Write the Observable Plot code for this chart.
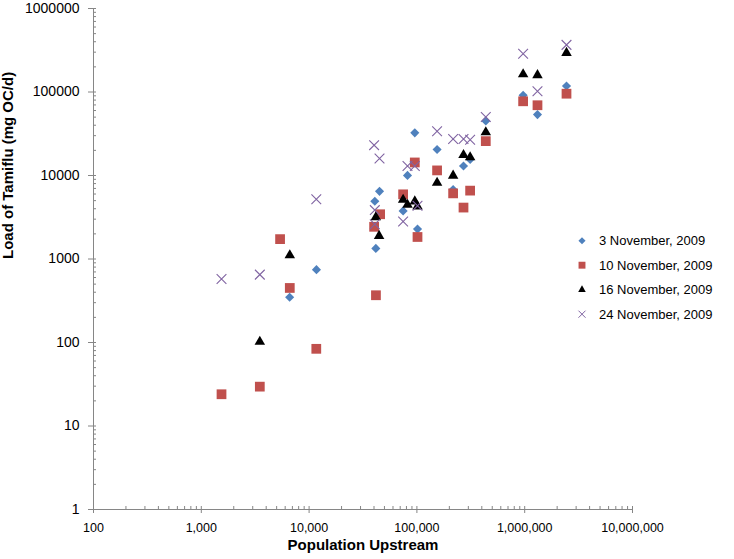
<!DOCTYPE html>
<html>
<head>
<meta charset="utf-8">
<script src="https://cdn.jsdelivr.net/npm/d3@7"></script>
<script src="https://cdn.jsdelivr.net/npm/@observablehq/plot@0.6"></script>
<style>
html, body { margin: 0; padding: 0; background: #fff; }
#wrap { position: relative; width: 734px; height: 559px; font-family: "Liberation Sans", Arial, sans-serif; }
#legend { position: absolute; left: 0; top: 0; pointer-events: none; }
</style>
</head>
<body>
<div id="wrap"></div>
<script>
// ---- Data ----
const seriesNames = ["3 November, 2009", "10 November, 2009", "16 November, 2009", "24 November, 2009"];
const seriesColors = ["#4F81BD", "#C0504D", "#000000", "#8064A2"];

const popNov3  = [6600, 11700, 40700, 45000, 41600, 74500, 81800, 95600, 101300, 153900, 216800, 270600, 311700, 435600, 967000, 1314000, 2442000];
const loadNov3 = [348, 745, 4910, 6460, 1340, 3770, 10030, 32400, 2280, 20480, 6800, 12980, 15560, 45100, 91400, 53600, 117900];

const popNov10  = [1540, 3490, 5380, 6620, 11660, 45600, 40100, 41700, 74500, 95600, 101300, 153900, 216800, 311700, 270600, 435600, 967000, 1314000, 2442000];
const loadNov10 = [24, 29.6, 1730, 450, 84, 3435, 2430, 368, 5950, 14330, 1835, 11510, 6110, 6590, 4130, 25800, 77400, 69400, 95400];

const popNov16  = [3490, 6620, 41600, 44600, 74500, 81800, 95600, 101300, 153900, 216800, 270600, 311700, 435600, 967000, 1314000, 2442000];
const loadNov16 = [102, 1110, 3160, 1890, 5120, 4460, 4900, 4270, 8200, 9950, 17600, 16500, 32900, 163000, 159000, 294000];

const popNov24  = [1540, 3490, 11660, 40100, 45000, 40700, 40700, 81800, 95600, 74500, 101300, 153900, 216800, 270600, 311700, 435600, 967000, 1314000, 2442000];
const loadNov24 = [576, 650, 5200, 23100, 16000, 3850, 2600, 12980, 12980, 2810, 4330, 33970, 27290, 27290, 26740, 50300, 286500, 101900, 366700];

const xTicks = [100, 1000, 10000, 100000, 1000000, 10000000];
const yTicks = [1, 10, 100, 1000, 10000, 100000, 1000000];
const xTitle = "Population Upstream";
const yTitle = "Load of Tamiflu (mg OC/d)";

// minor log ticks (2..9 in each decade)
const minorOf = (majors) => majors.slice(0, -1).flatMap(d => d3.range(2, 10).map(k => d * k));
const xMinor = minorOf(xTicks);
const yMinor = minorOf(yTicks);

const axisGray = "#868686";
const font = '"Liberation Sans", Arial, sans-serif';

const chart = Plot.plot({
  width: 734,
  height: 559,
  marginTop: 8,
  marginLeft: 93,
  marginRight: 102,
  marginBottom: 50,
  style: { fontFamily: font, background: "#fff", overflow: "visible" },
  x: { type: "log", domain: [100, 10000000] },
  y: { type: "log", domain: [1, 1000000] },
  marks: [
    // axis lines
    Plot.ruleX([100], { stroke: axisGray, strokeWidth: 1 }),
    Plot.ruleY([1], { stroke: axisGray, strokeWidth: 1 }),
    // minor ticks (inside)
    Plot.axisX({ ticks: xMinor, tickSize: -3, fill: "none", stroke: axisGray, label: null }),
    Plot.axisY({ ticks: yMinor, tickSize: -3, fill: "none", stroke: axisGray, label: null }),
    // major ticks crossing the axis
    Plot.axisX({ ticks: xTicks, tickSize: -3, fill: "none", stroke: axisGray, label: null }),
    Plot.axisY({ ticks: yTicks, tickSize: -3, fill: "none", stroke: axisGray, label: null }),
    Plot.axisX({ ticks: xTicks, tickSize: 4, tickPadding: 10, tickFormat: d3.format(","), fontSize: 12.5, stroke: axisGray, fill: "#000", label: null }),
    Plot.axisY({ ticks: yTicks, tickSize: 5, tickPadding: 9, tickFormat: d => String(d), fontSize: 14, stroke: axisGray, fill: "#000", label: null }),
    // axis titles
    Plot.text([xTitle], { text: d => d, frameAnchor: "bottom", dy: 40, fontSize: 15, fontWeight: "bold", fill: "#000" }),
    Plot.text([yTitle], { text: d => d, frameAnchor: "left", dx: -85, rotate: -90, fontSize: 15, fontWeight: "bold", fill: "#000" }),
    // series
    Plot.dot(popNov3,  { x: popNov3,  y: loadNov3,  symbol: "diamond2", r: 4.1, fill: seriesColors[0], stroke: "none" }),
    Plot.dot(popNov10, { x: popNov10, y: loadNov10, symbol: "square",   r: 5.5, fill: seriesColors[1], stroke: "none" }),
    Plot.dot(popNov16, { x: popNov16, y: loadNov16, symbol: "triangle", r: 3.9, fill: seriesColors[2], stroke: "none" }),
    Plot.dot(popNov24, { x: popNov24, y: loadNov24, symbol: "times",    r: 4.5, fill: "none", stroke: seriesColors[3], strokeWidth: 1.1 })
  ]
});

const wrap = document.getElementById("wrap");
wrap.appendChild(chart);

// ---- Legend (vertical, right side, like the reference) ----
const legendSymbols = [
  { type: d3.symbolDiamond2, size: Math.PI * 3.2 * 3.2, fill: true },
  { type: d3.symbolSquare,   size: Math.PI * 3.9 * 3.9, fill: true },
  { type: d3.symbolTriangle, size: Math.PI * 2.8 * 2.8, fill: true },
  { type: d3.symbolTimes,    size: Math.PI * 3.3 * 3.3, fill: false }
];
const lg = d3.select(wrap).append("svg")
  .attr("id", "legend")
  .attr("width", 734).attr("height", 559);
const rows = lg.selectAll("g").data(seriesNames).join("g")
  .attr("transform", (d, i) => `translate(582, ${240.7 + i * 24.5})`);
rows.append("path")
  .attr("d", (d, i) => d3.symbol(legendSymbols[i].type, legendSymbols[i].size)())
  .attr("fill", (d, i) => legendSymbols[i].fill ? seriesColors[i] : "none")
  .attr("stroke", (d, i) => legendSymbols[i].fill ? "none" : seriesColors[i])
  .attr("stroke-width", 1);
rows.append("text")
  .attr("x", 17)
  .attr("dy", "0.35em")
  .attr("font-family", font)
  .attr("font-size", 13)
  .attr("fill", "#000")
  .text(d => d);
</script>
</body>
</html>
